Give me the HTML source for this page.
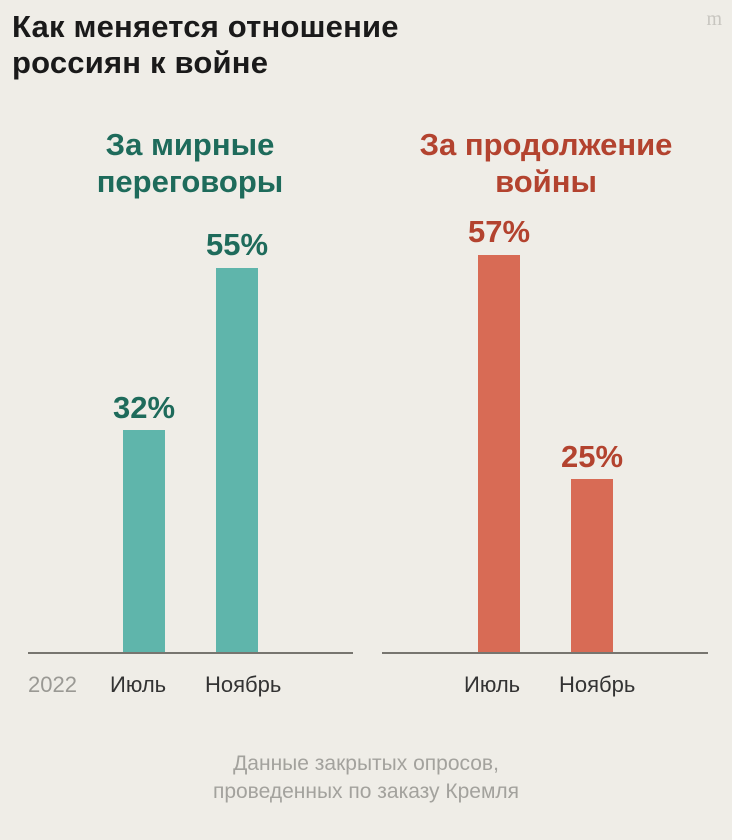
<!DOCTYPE html>
<html><head><meta charset="utf-8"><style>
body{margin:0;width:732px;height:840px;background:#efede7;font-family:"Liberation Sans",sans-serif;position:relative;overflow:hidden}
.a{position:absolute;white-space:nowrap}
.t{left:12px;font-size:31px;font-weight:bold;color:#1a1a1a;letter-spacing:0.2px}
.h{font-size:31px;font-weight:bold;text-align:center;width:340px;line-height:37px}
.g{color:#1e6b5b}.r{color:#b3432f}
.p{font-size:31px;font-weight:bold;text-align:center;width:100px}
.bar{position:absolute;width:42px}
.tb{background:#5fb5ab}.rb{background:#d86b55}
.ax{position:absolute;height:2px;background:#77756f;top:652px}
.l{font-size:22px;color:#333;top:672px}
.f{font-size:21px;color:#a3a29d;text-align:center;width:732px;left:0}
</style></head><body>
<div class="a t" style="top:9px">Как меняется отношение</div>
<div class="a t" style="top:45px">россиян к войне</div>
<div class="a" style="right:10px;top:8px;font-size:20px;color:#c8c6c0;font-family:'Liberation Serif',serif">m</div>
<div class="a h g" style="left:20px;top:126px">За мирные<br>переговоры</div>
<div class="a h r" style="left:376px;top:126px">За продолжение<br>войны</div>
<div class="a p g" style="left:94px;top:390px">32%</div>
<div class="a p g" style="left:187px;top:227px">55%</div>
<div class="a p r" style="left:449px;top:214px">57%</div>
<div class="a p r" style="left:542px;top:439px">25%</div>
<div class="bar tb" style="left:123px;top:430px;height:223px"></div>
<div class="bar tb" style="left:216px;top:268px;height:385px"></div>
<div class="bar rb" style="left:478px;top:255px;height:398px"></div>
<div class="bar rb" style="left:571px;top:479px;height:174px"></div>
<div class="ax" style="left:28px;width:325px"></div>
<div class="ax" style="left:382px;width:326px"></div>
<div class="a l" style="left:28px;color:#9a9994">2022</div>
<div class="a l" style="left:110px">Июль</div>
<div class="a l" style="left:205px">Ноябрь</div>
<div class="a l" style="left:464px">Июль</div>
<div class="a l" style="left:559px">Ноябрь</div>
<div class="a f" style="top:752px">Данные закрытых опросов,</div>
<div class="a f" style="top:780px">проведенных по заказу Кремля</div>
</body></html>
